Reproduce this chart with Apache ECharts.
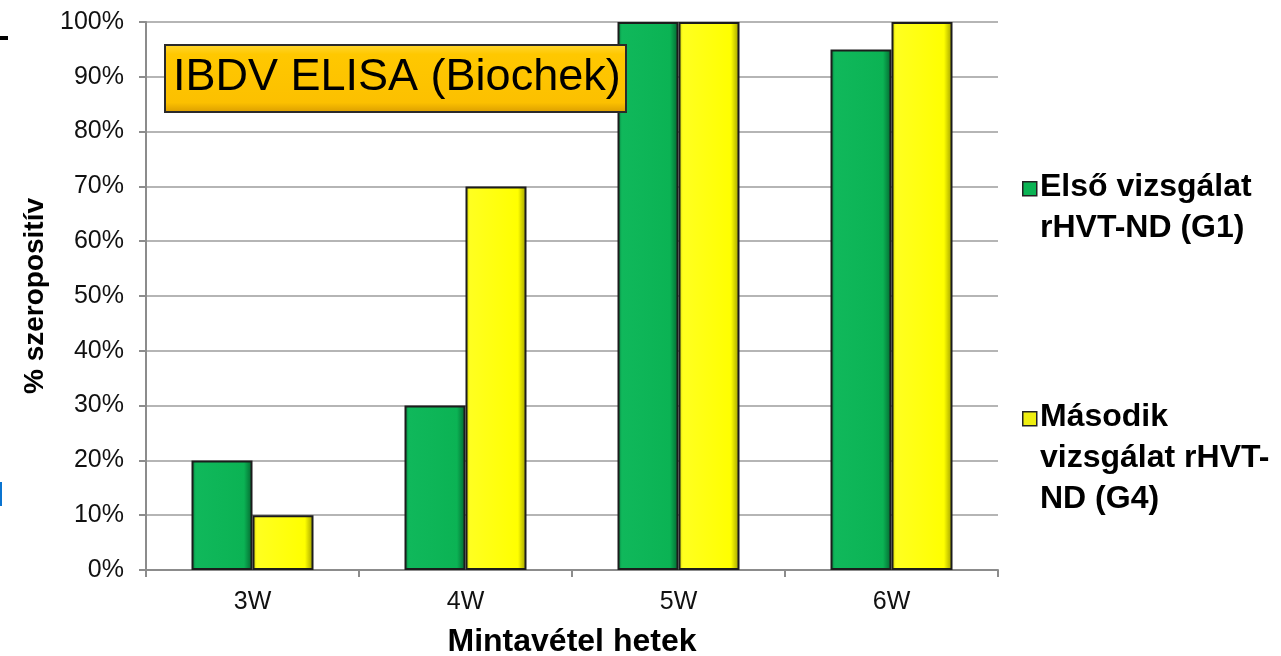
<!DOCTYPE html>
<html>
<head>
<meta charset="utf-8">
<script src="https://cdn.jsdelivr.net/npm/echarts@6/dist/echarts.min.js"></script>
<style>
html,body{margin:0;padding:0;background:#fff;}
#chart{width:1281px;height:656px;}
</style>
</head>
<body>
<div id="chart"></div>
<script>
var categories = ['3W', '4W', '5W', '6W'];
var g1Values = [20, 30, 100, 95];
var g4Values = [10, 70, 100, 100];
var seriesNames = ['Első vizsgálat rHVT-ND (G1)', 'Második vizsgálat rHVT-ND (G4)'];
var legendLines = [['Első vizsgálat', 'rHVT-ND (G1)'], ['Második', 'vizsgálat rHVT-', 'ND (G4)']];
var titleText = 'IBDV ELISA (Biochek)';
var yAxisName = '% szeropositív';
var xAxisName = 'Mintavétel hetek';

var FONT = 'Arial, "Liberation Sans", sans-serif';

var greenFill = new echarts.graphic.LinearGradient(0, 0, 1, 0, [
  {offset: 0, color: '#067a3c'},
  {offset: 0.07, color: '#10b85b'},
  {offset: 0.86, color: '#0bb354'},
  {offset: 1, color: '#04642f'}
]);
var yellowFill = new echarts.graphic.LinearGradient(0, 0, 1, 0, [
  {offset: 0, color: '#c8c800'},
  {offset: 0.07, color: '#ffff20'},
  {offset: 0.86, color: '#ffff00'},
  {offset: 1, color: '#9a9a00'}
]);
var fills = [greenFill, yellowFill];
var iconFills = ['#0bb354', '#eeee10'];

var chart = echarts.init(document.getElementById('chart'));

var graphics = [
  {type: 'rect', left: 0, top: 36, shape: {width: 8, height: 4}, style: {fill: '#000'}, silent: true},
  {type: 'rect', left: 0, top: 482, shape: {width: 2, height: 24}, style: {fill: '#0a74d0'}, silent: true},
  {type: 'rect', left: 164, top: 44, z: 100,
    shape: {width: 461, height: 67},
    style: {fill: new echarts.graphic.LinearGradient(0, 0, 0, 1, [
      {offset: 0, color: '#ffd733'}, {offset: 0.15, color: '#ffc800'},
      {offset: 0.85, color: '#fcc000'}, {offset: 1, color: '#d99c00'}
    ]), stroke: '#2a2a2a', lineWidth: 2}},
  {type: 'text', left: 173, top: 55, z: 101,
    style: {text: titleText, font: '45px ' + FONT, fill: '#000'}}
];

var legendTops = [167, 397];
legendLines.forEach(function (lines, i) {
  graphics.push({
    type: 'rect', left: 1022, top: legendTops[i] + 14,
    shape: {width: 14, height: 14},
    style: {fill: iconFills[i], stroke: '#222', lineWidth: 1.5}
  });
  graphics.push({
    type: 'text', left: 1040, top: legendTops[i],
    style: {text: lines.join('\n'), font: 'bold 32px ' + FONT, lineHeight: 41, fill: '#000'}
  });
});

chart.setOption({
  animation: false,
  grid: {left: 146, right: 283, top: 22, bottom: 86, containLabel: false, outerBoundsMode: 'none'},
  legend: {show: false, data: seriesNames},
  xAxis: {
    type: 'category',
    data: categories,
    name: xAxisName,
    nameLocation: 'middle',
    nameGap: 56,
    nameTextStyle: {fontFamily: FONT, fontSize: 32, fontWeight: 'bold', color: '#000'},
    axisLine: {lineStyle: {color: '#8c8c8c', width: 2}},
    axisTick: {show: true, length: 7, lineStyle: {color: '#8c8c8c', width: 2}},
    axisLabel: {fontFamily: FONT, fontSize: 25, color: '#111', margin: 20}
  },
  yAxis: {
    type: 'value',
    min: 0, max: 100, interval: 10,
    name: yAxisName,
    nameLocation: 'middle',
    nameGap: 92,
    nameRotate: 90,
    nameTextStyle: {fontFamily: FONT, fontSize: 28, fontWeight: 'bold', color: '#000'},
    axisLine: {show: true, lineStyle: {color: '#8c8c8c', width: 2}},
    axisTick: {show: true, length: 7, lineStyle: {color: '#8c8c8c', width: 2}},
    axisLabel: {fontFamily: FONT, fontSize: 25, color: '#111', margin: 22,
      formatter: function (v) { return v + '%'; }},
    splitLine: {lineStyle: {color: '#9c9c9c', width: 1.5}}
  },
  series: [
    {name: seriesNames[0], type: 'bar', data: g1Values, barWidth: 61, barGap: '0%', z: 2,
      itemStyle: {color: fills[0], borderColor: '#1c1c1c', borderWidth: 2}},
    {name: seriesNames[1], type: 'bar', data: g4Values, barWidth: 61, barGap: '0%', z: 2,
      itemStyle: {color: fills[1], borderColor: '#1c1c1c', borderWidth: 2}}
  ],
  graphic: graphics
});
</script>
</body>
</html>
